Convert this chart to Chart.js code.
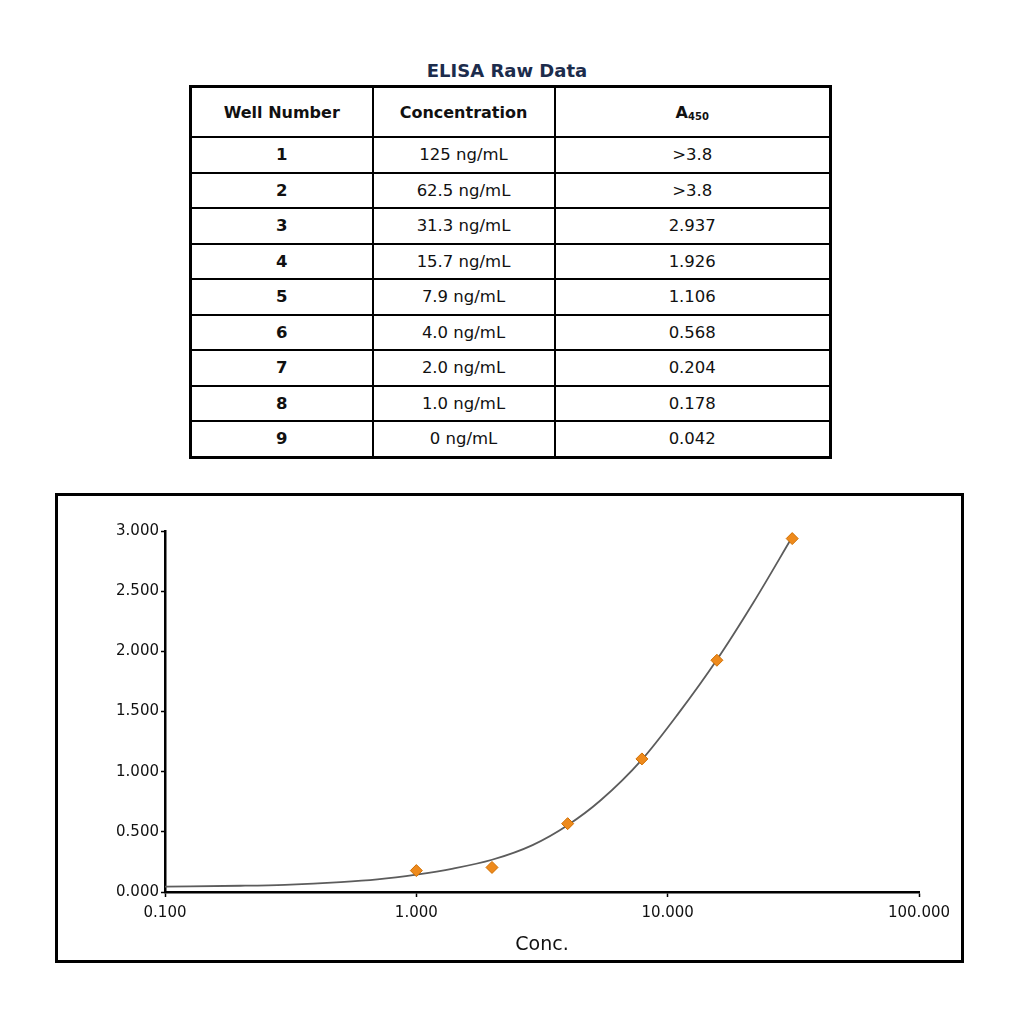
<!DOCTYPE html>
<html>
<head>
<meta charset="utf-8">
<script src="https://cdn.jsdelivr.net/npm/chart.js@4.4.1/dist/chart.umd.min.js"></script>
<style>
  html, body { margin: 0; padding: 0; background: #fff; }
  body { width: 1024px; height: 1024px; position: relative; overflow: hidden; font-family: "DejaVu Sans", sans-serif; }
  #title { position: absolute; left: 0; width: 1014px; top: 60px; text-align: center; font-weight: bold; font-size: 18px; color: #1c2c4c; }
  #tbl { position: absolute; left: 189px; top: 85px; width: 640px; border-collapse: collapse; border: 3px solid #000; table-layout: fixed; }
  #tbl td, #tbl th { border: 2px solid #000; text-align: center; padding: 0; color: #111; }
  #tbl th { font-weight: bold; font-size: 16px; height: 48px; }
  #tbl td { font-size: 16.5px; height: 33.5px; }
  #tbl sub { font-size: 10px; vertical-align: -2px; font-weight: bold; }
  #box { position: absolute; left: 55px; top: 493px; width: 909px; height: 470px; border: 3px solid #000; box-sizing: border-box; }
  #cv { position: absolute; left: 0; top: 0; }
</style>
</head>
<body>
<div id="title">ELISA Raw Data</div>
<table id="tbl">
  <colgroup><col style="width:182px"><col style="width:182px"><col style="width:276px"></colgroup>
  <thead><tr id="hdr"></tr></thead>
  <tbody id="tbody"></tbody>
</table>
<div id="box"><canvas id="cv" width="903" height="464"></canvas></div>
<script>
// ---- Table data ----
const tableHeaders = ["Well Number", "Concentration", "A<sub>450</sub>"];
const wellNumbers = ["1", "2", "3", "4", "5", "6", "7", "8", "9"];
const concLabels = ["125 ng/mL", "62.5 ng/mL", "31.3 ng/mL", "15.7 ng/mL", "7.9 ng/mL", "4.0 ng/mL", "2.0 ng/mL", "1.0 ng/mL", "0 ng/mL"];
const a450Labels = [">3.8", ">3.8", "2.937", "1.926", "1.106", "0.568", "0.204", "0.178", "0.042"];

// ---- Plotted standards ----
const pointConc = [1.0, 2.0, 4.0, 7.9, 15.7, 31.3];
const pointA450 = [0.178, 0.204, 0.568, 1.106, 1.926, 2.937];

// ---- Fitted curve ----
const curveConc = [0.1, 0.2, 0.3, 0.5, 0.7, 1.0, 1.4, 2.0, 2.9, 4.0, 5.4, 7.9, 11, 15.7, 22, 31.3];
const curveA450 = [0.045, 0.052, 0.060, 0.082, 0.105, 0.145, 0.195, 0.268, 0.39, 0.555, 0.76, 1.10, 1.48, 1.93, 2.41, 2.95];

// ---- Axis ticks ----
const xTickValues = [0.1, 1, 10, 100];
const yTickStep = 0.5;
const xTitle = "Conc.";

// Build table
const hdr = document.getElementById('hdr');
tableHeaders.forEach(h => { const th = document.createElement('th'); th.innerHTML = h; hdr.appendChild(th); });
const tbody = document.getElementById('tbody');
wellNumbers.forEach((w, i) => {
  const tr = document.createElement('tr');
  [w, concLabels[i], a450Labels[i]].forEach((t, j) => {
    const td = document.createElement('td'); td.textContent = t;
    if (j === 0) td.style.fontWeight = 'bold';
    tr.appendChild(td);
  });
  tbody.appendChild(tr);
});

// Build chart
const tickFont = { family: "DejaVu Sans", size: 15 };
new Chart(document.getElementById('cv'), {
  type: 'scatter',
  data: {
    datasets: [
      {
        label: 'fit',
        data: curveConc.map((x, i) => ({ x: x, y: curveA450[i] })),
        showLine: true,
        borderColor: '#5c5c5c',
        borderWidth: 1.8,
        pointRadius: 0,
        tension: 0.4,
        cubicInterpolationMode: 'monotone',
        order: 2
      },
      {
        label: 'standards',
        data: pointConc.map((x, i) => ({ x: x, y: pointA450[i] })),
        showLine: false,
        pointStyle: 'rectRot',
        pointRadius: 6,
        backgroundColor: '#ee8a1c',
        borderColor: '#d06e00',
        borderWidth: 1,
        order: 1
      }
    ]
  },
  options: {
    responsive: false,
    animation: false,
    devicePixelRatio: 1,
    layout: { padding: { top: 35, right: 42, left: 0, bottom: 0 } },
    plugins: { legend: { display: false }, tooltip: { enabled: false } },
    scales: {
      x: {
        type: 'logarithmic',
        min: 0.1, max: 100,
        afterBuildTicks: s => { s.ticks = xTickValues.map(v => ({ value: v })); },
        afterFit: s => { s.height = 68; },
        ticks: { autoSkip: false, maxRotation: 0, color: '#111', font: tickFont, padding: 7,
                 callback: v => Number(v).toFixed(3) },
        grid: { drawOnChartArea: false, drawTicks: true, tickLength: 5, tickColor: '#000', tickWidth: 1.5 },
        border: { display: true, color: '#000', width: 2.5 },
        title: { display: true, text: xTitle, color: '#111', font: { family: "DejaVu Sans", size: 19 }, padding: { top: 2 } }
      },
      y: {
        min: 0, max: 3,
        afterFit: s => { s.width = 107; },
        ticks: { stepSize: yTickStep, color: '#111', font: tickFont, padding: 2,
                 callback: v => Number(v).toFixed(3) },
        grid: { drawOnChartArea: false, drawTicks: true, tickLength: 4, tickColor: '#000', tickWidth: 1.5 },
        border: { display: true, color: '#000', width: 2.5 }
      }
    }
  }
});
</script>
</body>
</html>
